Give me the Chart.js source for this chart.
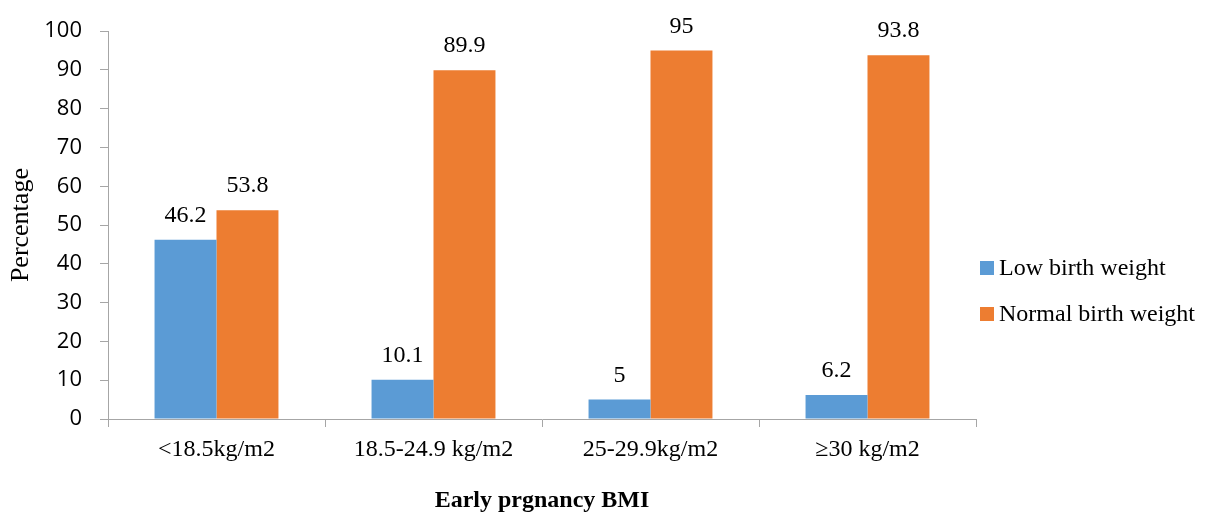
<!DOCTYPE html>
<html>
<head>
<meta charset="utf-8">
<script src="https://cdn.jsdelivr.net/npm/chart.js@4.4.1/dist/chart.umd.min.js"></script>
<style>
  html, body { margin: 0; padding: 0; background: #fff; }
  #wrap { width: 1213px; height: 515px; }
</style>
</head>
<body>
<div id="wrap"><canvas id="bmi_graph" width="1213" height="515"></canvas></div>
<script>
const categories = ['<18.5kg/m2', '18.5-24.9 kg/m2', '25-29.9kg/m2', '\u226530 kg/m2'];
const lowBirthWeight = [46.2, 10.1, 5, 6.2];
const normalBirthWeight = [53.8, 89.9, 95, 93.8];
const seriesNames = ['Low birth weight', 'Normal birth weight'];
const yTicks = [0, 10, 20, 30, 40, 50, 60, 70, 80, 90, 100];

const serif = '"Liberation Serif", "DejaVu Serif", serif';
const sans = '"Open Sans", "Liberation Sans", sans-serif';
const axisGrey = '#A6A6A6';

// value labels above each bar
const barLabels = {
  id: 'barLabels',
  afterDatasetsDraw(chart) {
    const ctx = chart.ctx;
    ctx.save();
    ctx.font = '24px ' + serif;
    ctx.fillStyle = '#000';
    ctx.textAlign = 'center';
    ctx.textBaseline = 'alphabetic';
    chart.data.datasets.forEach((ds, i) => {
      chart.getDatasetMeta(i).data.forEach((bar, j) => {
        ctx.fillText(String(ds.data[j]), bar.x, bar.y - 18);
      });
    });
    ctx.restore();
  }
};

// legend at the right, drawn by hand so it sits where the original has it
const sideLegend = {
  id: 'sideLegend',
  afterDraw(chart) {
    const ctx = chart.ctx;
    const x = chart.chartArea.right + 4;
    const rows = [268, 314];
    ctx.save();
    ctx.font = '24px ' + serif;
    ctx.textBaseline = 'middle';
    ctx.textAlign = 'left';
    chart.data.datasets.forEach((ds, i) => {
      ctx.fillStyle = ds.backgroundColor;
      ctx.fillRect(x, rows[i] - 7, 14, 14);
      ctx.fillStyle = '#000';
      ctx.fillText(ds.label, x + 19, rows[i] + 1);
    });
    ctx.restore();
  }
};

const ctx = document.getElementById('bmi_graph').getContext('2d');
const myChart = new Chart(ctx, {
  type: 'bar',
  data: {
    labels: categories,
    datasets: [
      { label: seriesNames[0], data: lowBirthWeight, backgroundColor: '#5B9BD5' },
      { label: seriesNames[1], data: normalBirthWeight, backgroundColor: '#ED7D31' }
    ]
  },
  options: {
    responsive: false,
    animation: false,
    layout: { padding: { left: 0, right: 237, top: 30, bottom: 0 } },
    datasets: { bar: { categoryPercentage: 0.571, barPercentage: 1.0 } },
    plugins: {
      legend: { display: false },
      tooltip: { enabled: false }
    },
    scales: {
      x: {
        afterFit(axis) { axis.height = 96; },
        grid: { drawOnChartArea: false, drawTicks: true, tickLength: 8, color: axisGrey, offset: true },
        border: { color: axisGrey, width: 1 },
        ticks: { color: '#000', font: { family: serif, size: 24 }, padding: 8 },
        title: { display: true, text: 'Early prgnancy BMI', color: '#000', font: { family: serif, size: 24, weight: 'bold' }, padding: { top: 0, bottom: 0 } }
      },
      y: {
        min: 0,
        max: 100,
        afterBuildTicks(axis) { axis.ticks = yTicks.map(v => ({ value: v })); },
        afterFit(axis) { axis.width = 108; },
        grid: { drawOnChartArea: false, drawTicks: true, tickLength: 8, color: axisGrey },
        border: { color: axisGrey, width: 1 },
        ticks: { color: '#000', font: { family: sans, size: 22 }, padding: 18 },
        title: { display: true, text: 'Percentage', color: '#000', font: { family: serif, size: 26 }, padding: { top: 6, bottom: 0 } }
      }
    }
  },
  plugins: [barLabels, sideLegend]
});
</script>
</body>
</html>
